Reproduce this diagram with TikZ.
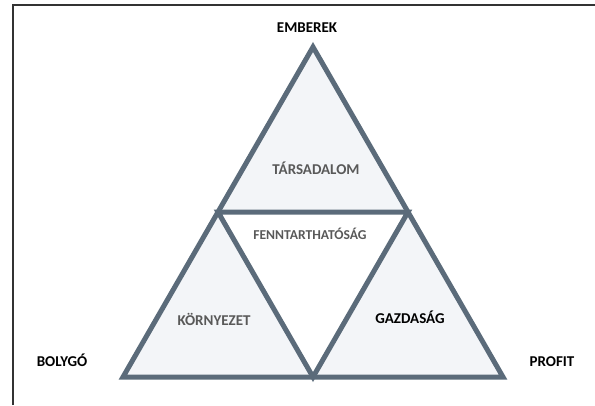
\documentclass[tikz,border=0pt]{standalone}
\usepackage{fontspec}
\setmainfont{Carlito}
\usetikzlibrary{calc}
\usetikzlibrary{positioning}

\definecolor{edgeblue}{HTML}{5B6B7A}
\definecolor{palefill}{HTML}{F3F5F8}
\definecolor{labelgray}{HTML}{595959}

\begin{document}
\begin{tikzpicture}[x=1pt, y=-1pt,
    every node/.style={inner sep=0, text height=9.7pt, text depth=0pt,
      font=\fontsize{15}{18}\selectfont\bfseries},
    corner/.style={text=black},
    part/.style={text=labelgray},
    frame/.style={draw=black!80, line width=1.5pt}
  ]
  \useasboundingbox (0,0) rectangle (595,405);
  \draw[frame] (13,405) -- (13,5) -- (595,5);

  \coordinate (apex) at (313,47);
  \coordinate (bl) at (123,377);
  \coordinate (br) at (503,377);
  \coordinate (ml) at ($(apex)!0.5!(bl)$);
  \coordinate (mr) at ($(apex)!0.5!(br)$);
  \coordinate (mb) at ($(bl)!0.5!(br)$);

  \fill[palefill] (apex) -- (ml) -- (mr) -- cycle;
  \fill[palefill] (ml) -- (bl) -- (mb) -- cycle;
  \fill[palefill] (mr) -- (mb) -- (br) -- cycle;
  \draw[edgeblue, line width=5pt] (apex) -- (bl) -- (br) -- cycle;
  \draw[edgeblue, line width=5pt] (ml) -- (mr) -- (mb) -- cycle;

  \node[corner] (people) at (307,28) {EMBEREK};
  \node[corner] (planet) at (62,362) {BOLYGÓ};
  \node[corner] (profit) at (552,362) {PROFIT};

  \node[part] (society) at (316,170) {TÁRSADALOM};
  \node[part, font=\fontsize{13.6}{16}\selectfont\bfseries, text height=8.8pt]
    (sustain) at (310,235) {FENNTARTHATÓSÁG};
  \node[part] (environ) at (214,321) {KÖRNYEZET};
  \node[corner] (economy) at (410,319) {GAZDASÁG};
\end{tikzpicture}
\end{document}
